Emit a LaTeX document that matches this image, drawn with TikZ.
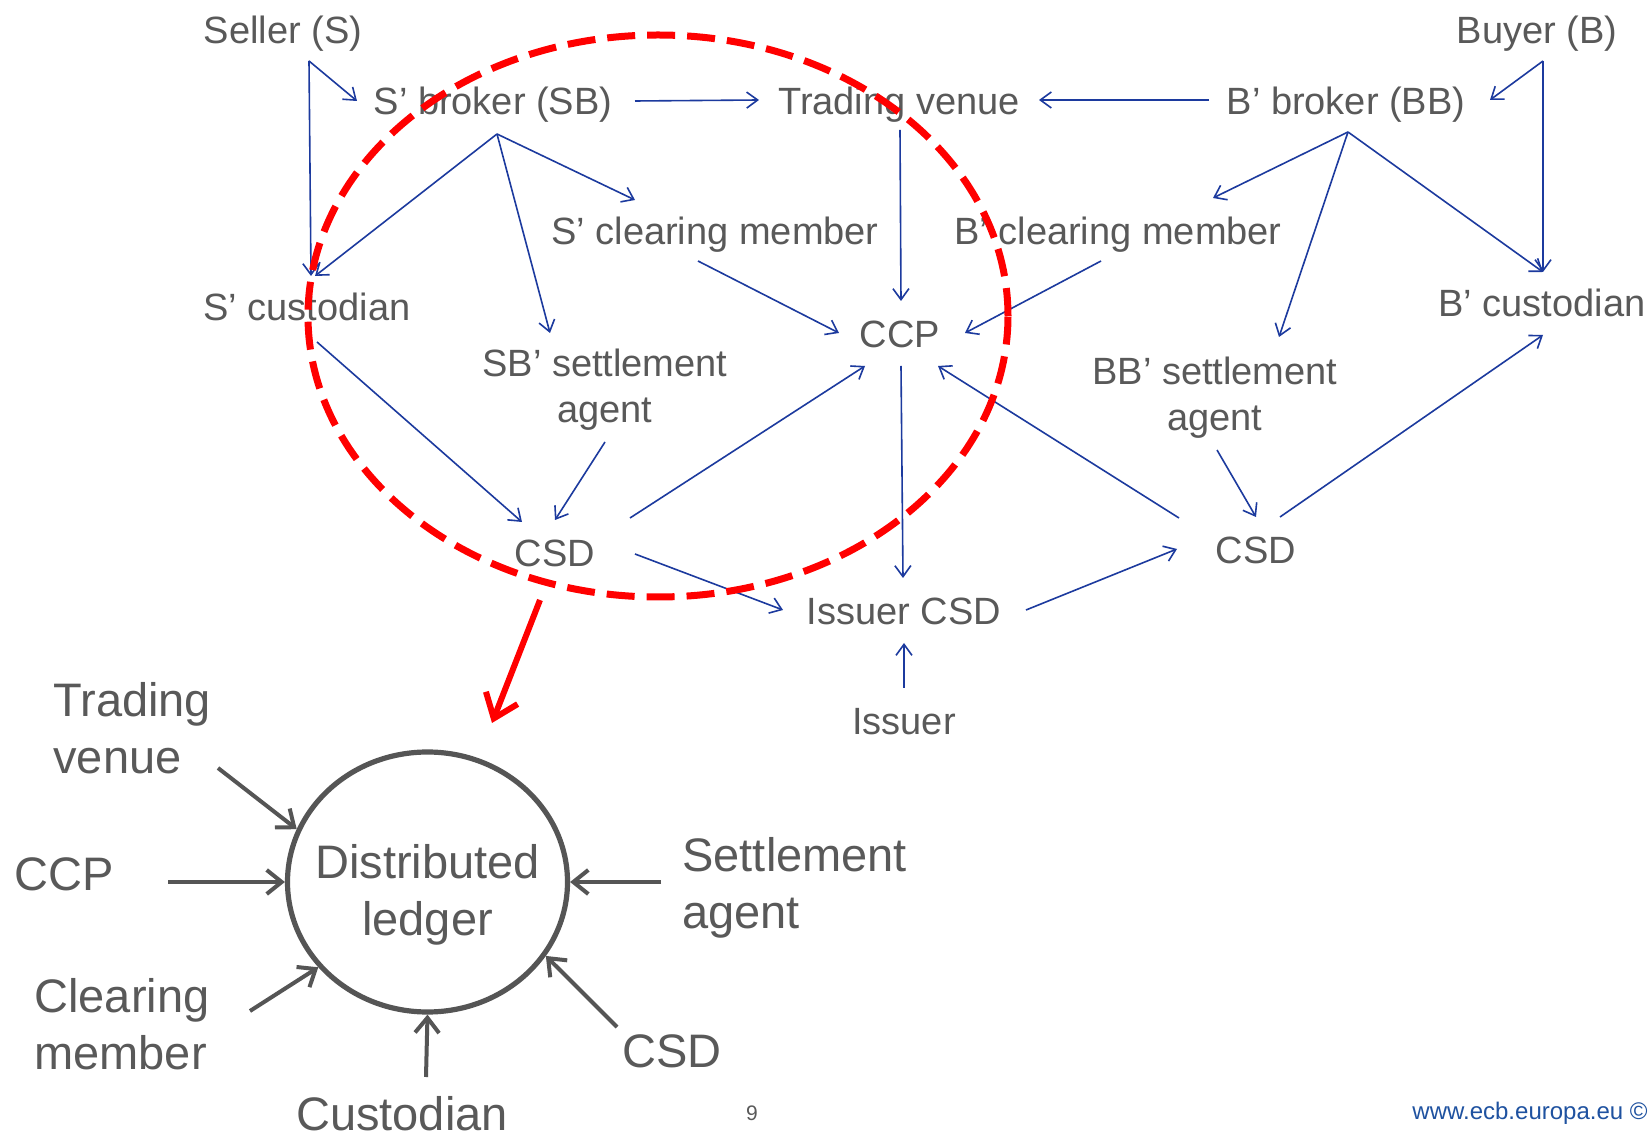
\documentclass[tikz,border=0pt]{standalone}
\usepackage{fontspec}
\setmainfont{Liberation Sans}
\usetikzlibrary{arrows.meta,shapes.geometric}
\definecolor{txtgray}{RGB}{89,89,89}
\definecolor{lnblue}{RGB}{28,58,158}
\definecolor{urlblue}{RGB}{31,82,160}
\definecolor{dlgray}{RGB}{85,85,85}
\definecolor{ecbred}{RGB}{255,0,0}
\begin{document}
\begin{tikzpicture}[x=0.5pt,y=-0.5pt,
  lbl/.style={text=txtgray, font=\fontsize{19pt}{23pt}\selectfont, inner sep=0pt, text height=13.7pt, text depth=0pt, align=center},
  lbltwo/.style={lbl, text height=36.7pt},
  big/.style={text=txtgray, font=\fontsize{23.5pt}{28.5pt}\selectfont, inner sep=0pt, text height=16.9pt, text depth=0pt, align=left, anchor=west},
  bigtwo/.style={big, text height=45.4pt},
  dlnode/.style={ellipse, draw=dlgray, line width=2.6pt, inner ysep=0pt, inner xsep=-12pt, minimum width=140pt, minimum height=130pt, text=txtgray, font=\fontsize{23.5pt}{28.5pt}\selectfont, text height=53.4pt, text depth=0pt, align=center},
  focus/.style={ellipse, draw=ecbred, line width=3.5pt, dash pattern=on 14pt off 6pt, inner sep=0pt, minimum width=350pt, minimum height=281pt},
  barrow/.style={draw=lnblue, line width=0.8pt, -{Straight Barb[length=5.5pt,width=8pt]}},
  garrow/.style={draw=dlgray, line width=2pt, -{Straight Barb[length=7.5pt,width=12pt]}},
  redarrow/.style={draw=ecbred, line width=3pt, -{Straight Barb[length=11pt,width=17pt]}},
  pgnum/.style={text=txtgray, font=\fontsize{10.5pt}{12pt}\selectfont, inner sep=0pt},
  urltext/.style={text=urlblue, font=\fontsize{12pt}{14pt}\selectfont, inner sep=0pt, anchor=east}
]
\fill[white] (0,0) rectangle (1651,1138);
\useasboundingbox (0,0) rectangle (1651,1138);

% upper network nodes
\node[lbl] (seller) at (283,30) {Seller (S)};
\node[lbl] (buyer) at (1537,30) {Buyer (B)};
\node[lbl] (sb) at (493,101) {S’ broker (SB)};
\node[lbl] (tv) at (899,101) {Trading venue};
\node[lbl] (bb) at (1346,101) {B’ broker (BB)};
\node[lbl] (scm) at (715,231) {S’ clearing member};
\node[lbl] (bcm) at (1118,231) {B’ clearing member};
\node[lbl] (scu) at (307,307) {S’ custodian};
\node[lbl] (bcu) at (1542,303) {B’ custodian};
\node[lbl] (ccp) at (900,334) {CCP};
\node[lbltwo] (ssa) at (605,386) {SB’ settlement\\agent};
\node[lbltwo] (bsa) at (1215,394) {BB’ settlement\\agent};
\node[lbl] (csdl) at (555,553) {CSD};
\node[lbl] (csdr) at (1256,550) {CSD};
\node[lbl] (icsd) at (904,611) {Issuer CSD};
\node[lbl] (issuer) at (904,721) {Issuer};

% upper network connectors
\draw[barrow] ([shift={(26,31)}]seller.center) -- ([shift={(-136,0)}]sb.center);
\draw[barrow] ([shift={(26,31)}]seller.center) -- ([shift={(4,-31)}]scu.center);
\draw[barrow] ([shift={(6,31)}]buyer.center) -- ([shift={(144,-1)}]bb.center);
\draw[barrow] ([shift={(6,31)}]buyer.center) -- ([shift={(1,-31)}]bcu.center);
\draw[barrow] ([shift={(142,0)}]sb.center) -- ([shift={(-140,-1)}]tv.center);
\draw[barrow] ([shift={(-137,-1)}]bb.center) -- ([shift={(140,-1)}]tv.center);
\draw[barrow] ([shift={(4,33)}]sb.center) -- ([shift={(8,-31)}]scu.center);
\draw[barrow] ([shift={(4,33)}]sb.center) -- ([shift={(-55,-53)}]ssa.center);
\draw[barrow] ([shift={(4,33)}]sb.center) -- ([shift={(-80,-31)}]scm.center);
\draw[barrow] ([shift={(2,31)}]bb.center) -- ([shift={(95,-33)}]bcm.center);
\draw[barrow] ([shift={(2,31)}]bb.center) -- ([shift={(64,-57)}]bsa.center);
\draw[barrow] ([shift={(2,31)}]bb.center) -- ([shift={(1,-31)}]bcu.center);
\draw[barrow] ([shift={(1,29)}]tv.center) -- ([shift={(1,-33)}]ccp.center);
\draw[barrow] ([shift={(-17,30)}]scm.center) -- ([shift={(-61,-1)}]ccp.center);
\draw[barrow] ([shift={(-17,30)}]bcm.center) -- ([shift={(65,-1)}]ccp.center);
\draw[barrow] ([shift={(10,35)}]scu.center) -- ([shift={(-33,-31)}]csdl.center);
\draw[barrow] ([shift={(0,56)}]ssa.center) -- ([shift={(0,-33)}]csdl.center);
\draw[barrow] ([shift={(75,-35)}]csdl.center) -- ([shift={(-35,32)}]ccp.center);
\draw[barrow] ([shift={(1,32)}]ccp.center) -- ([shift={(-1,-33)}]icsd.center);
\draw[barrow] ([shift={(-77,-32)}]csdr.center) -- ([shift={(38,32)}]ccp.center);
\draw[barrow] ([shift={(80,1)}]csdl.center) -- ([shift={(-121,-1)}]icsd.center);
\draw[barrow] ([shift={(122,-1)}]icsd.center) -- ([shift={(-79,-1)}]csdr.center);
\draw[barrow] ([shift={(2,56)}]bsa.center) -- ([shift={(0,-33)}]csdr.center);
\draw[barrow] ([shift={(24,-33)}]csdr.center) -- ([shift={(1,32)}]bcu.center);
\draw[barrow] ([shift={(0,-33)}]issuer.center) -- ([shift={(0,32)}]icsd.center);

% lower distributed ledger diagram
\node[dlnode] (dl) at (427.5,882) {Distributed\\ledger};
\node[bigtwo] (ltv) at (53,728) {Trading\\venue};
\node[big] (lccp) at (14,874) {CCP};
\node[bigtwo] (lcm) at (34,1024) {Clearing\\member};
\node[bigtwo] (lsa) at (682,883) {Settlement\\agent};
\node[big, anchor=center] (lcu) at (402,1114) {Custodian};
\node[big, anchor=center] (lcsd) at (672,1051) {CSD};

\draw[garrow] ([shift={(165,40)}]ltv.west) -- (dl.158);
\draw[garrow] ([shift={(154,8)}]lccp.west) -- (dl.west);
\draw[garrow] ([shift={(216,-13)}]lcm.west) -- (dl.218);
\draw[garrow] ([shift={(24,-37)}]lcu.center) -- (dl.south);
\draw[garrow] ([shift={(-55,-24)}]lcsd.center) -- (dl.-32);
\draw[garrow] ([shift={(-21,-1)}]lsa.west) -- (dl.east);

% red focus ellipse and arrow
\node[focus] (fc) at (658,316) {};
\coordinate (redtip) at (492,723);
\draw[redarrow] ([shift={(-15,47)}]csdl.center) -- (redtip);

% footer
\node[pgnum] (pg) at (752,1113) {9};
\node[urltext] (url) at (1648,1113) {www.ecb.europa.eu ©};
\end{tikzpicture}
\end{document}
